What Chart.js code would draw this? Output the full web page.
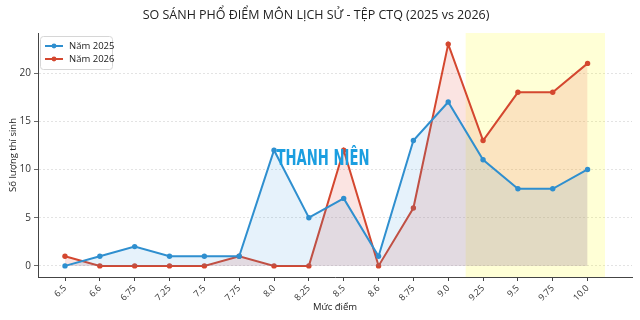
<!DOCTYPE html>
<html>
<head>
<meta charset="utf-8">
<script src="https://cdn.jsdelivr.net/npm/chart.js@4.4.0/dist/chart.umd.min.js"></script>
<style>
	html, body { margin: 0; padding: 0; background: #fff; }
	#wrap { width: 640px; height: 320px; }
</style>
</head>
<body>
<div id="wrap"><canvas id="chart" width="640" height="320"></canvas></div>
<script>
const labels = ['6.5', '6.6', '6.75', '7.25', '7.5', '7.75', '8.0', '8.25', '8.5', '8.6', '8.75', '9.0', '9.25', '9.5', '9.75', '10.0'];
const nam2025 = [0, 1, 2, 1, 1, 1, 12, 5, 7, 1, 13, 17, 11, 8, 8, 10];
const nam2026 = [1, 0, 0, 0, 0, 1, 0, 0, 12, 0, 6, 23, 13, 18, 18, 21];
const yTicks = [0, 5, 10, 15, 20];
const highlight = [11.5, 15.5];

const BLUE = '#2f8fcf';
const RED = '#d4472f';
const FONT = "'Open Sans', 'DejaVu Sans', sans-serif";

const toPoints = (arr) => arr.map((v, i) => ({ x: i, y: v }));

// yellow band behind the lines
const bandPlugin = {
	id: 'band',
	beforeDatasetsDraw(chart) {
		const { ctx, chartArea, scales } = chart;
		const x0 = scales.x.getPixelForValue(highlight[0]);
		const x1 = scales.x.getPixelForValue(highlight[1]);
		ctx.save();
		ctx.fillStyle = 'rgba(255, 255, 0, 0.16)';
		ctx.fillRect(x0, chartArea.top, x1 - x0, chartArea.bottom - chartArea.top);
		ctx.restore();
	},
};

// watermark + legend box drawn on top
const overlayPlugin = {
	id: 'overlay',
	afterDatasetsDraw(chart) {
		const { ctx, scales } = chart;
		ctx.save();
		ctx.fillStyle = '#1b9ee0';
		ctx.font = "bold 22px 'DejaVu Sans Condensed', 'DejaVu Sans', sans-serif";
		ctx.textBaseline = 'middle';
		ctx.textAlign = 'left';
		const wx = scales.x.getPixelForValue(6.07);
		ctx.fillText('THANH NIÊN', wx, 159, 93);
		ctx.restore();

		// legend
		ctx.save();
		const lx = 40, ly = 36, lw = 72, lh = 33;
		ctx.fillStyle = 'rgba(255,255,255,0.85)';
		ctx.strokeStyle = '#d6d6d6';
		ctx.lineWidth = 1;
		ctx.beginPath();
		ctx.roundRect(lx + 0.5, ly + 0.5, lw, lh, 3);
		ctx.fill();
		ctx.stroke();
		const rows = [['Năm 2025', BLUE], ['Năm 2026', RED]];
		rows.forEach((r, i) => {
			const y = ly + 10 + i * 13;
			ctx.strokeStyle = r[1];
			ctx.lineWidth = 2;
			ctx.beginPath();
			ctx.moveTo(lx + 5, y);
			ctx.lineTo(lx + 23, y);
			ctx.stroke();
			ctx.fillStyle = r[1];
			ctx.beginPath();
			ctx.arc(lx + 14, y, 2.4, 0, Math.PI * 2);
			ctx.fill();
			ctx.fillStyle = '#222';
			ctx.font = '9.5px ' + FONT;
			ctx.textBaseline = 'middle';
			ctx.fillText(r[0], lx + 29, y + 0.5);
		});
		ctx.restore();
	},
};

const lineSet = (label, data, color, fill) => ({
	label: label,
	data: toPoints(data),
	borderColor: color,
	backgroundColor: fill,
	pointBackgroundColor: color,
	pointBorderColor: color,
	pointBorderWidth: 0,
	pointRadius: 2.7,
	borderWidth: 2,
	tension: 0,
	fill: 'origin',
});

new Chart(document.getElementById('chart').getContext('2d'), {
	type: 'line',
	data: {
		datasets: [
			lineSet('Năm 2025', nam2025, BLUE, 'rgba(52, 152, 219, 0.12)'),
			lineSet('Năm 2026', nam2026, RED, 'rgba(231, 76, 60, 0.15)'),
		],
	},
	options: {
		responsive: false,
		animation: false,
		layout: { padding: { left: 0, right: 8, top: 0, bottom: 0 } },
		plugins: {
			legend: { display: false },
			tooltip: { enabled: false },
			title: {
				display: true,
				text: 'SO SÁNH PHỔ ĐIỂM MÔN LỊCH SỬ - TỆP CTQ (2025 vs 2026)',
				color: '#222',
				font: { family: FONT, size: 12.5, weight: 'normal' },
				padding: { top: 8, bottom: 10 },
			},
		},
		scales: {
			x: {
				type: 'linear',
				min: -0.775,
				max: 16.275,
				afterBuildTicks: (scale) => { scale.ticks = labels.map((l, i) => ({ value: i })); },
				afterFit: (scale) => { scale.height = 43; },
				ticks: {
					callback: (v) => labels[v],
					autoSkip: false,
					minRotation: 45,
					maxRotation: 45,
					color: '#333',
					padding: 2,
					font: { family: FONT, size: 9 },
				},
				grid: { drawOnChartArea: false, tickLength: 4, tickColor: '#444' },
				border: { color: '#444', width: 1 },
				title: {
					display: true,
					text: 'Mức điểm',
					color: '#222',
					font: { family: FONT, size: 9.5 },
					padding: { top: 0, bottom: 7 },
				},
			},
			y: {
				min: -1.15,
				max: 24.15,
				afterBuildTicks: (scale) => { scale.ticks = yTicks.map((v) => ({ value: v })); },
				afterFit: (scale) => { scale.width = 38; },
				ticks: {
					color: '#333',
					padding: 3,
					font: { family: FONT, size: 10 },
				},
				grid: { color: '#dcdcdc', lineWidth: 0.8, tickLength: 4, tickColor: '#444' },
				border: { color: '#444', width: 1, dash: [2, 2] },
				title: {
					display: true,
					text: 'Số lượng thí sinh',
					color: '#222',
					font: { family: FONT, size: 9.5 },
					padding: { top: 8, bottom: 2 },
				},
			},
		},
	},
	plugins: [bandPlugin, overlayPlugin],
});
</script>
</body>
</html>
